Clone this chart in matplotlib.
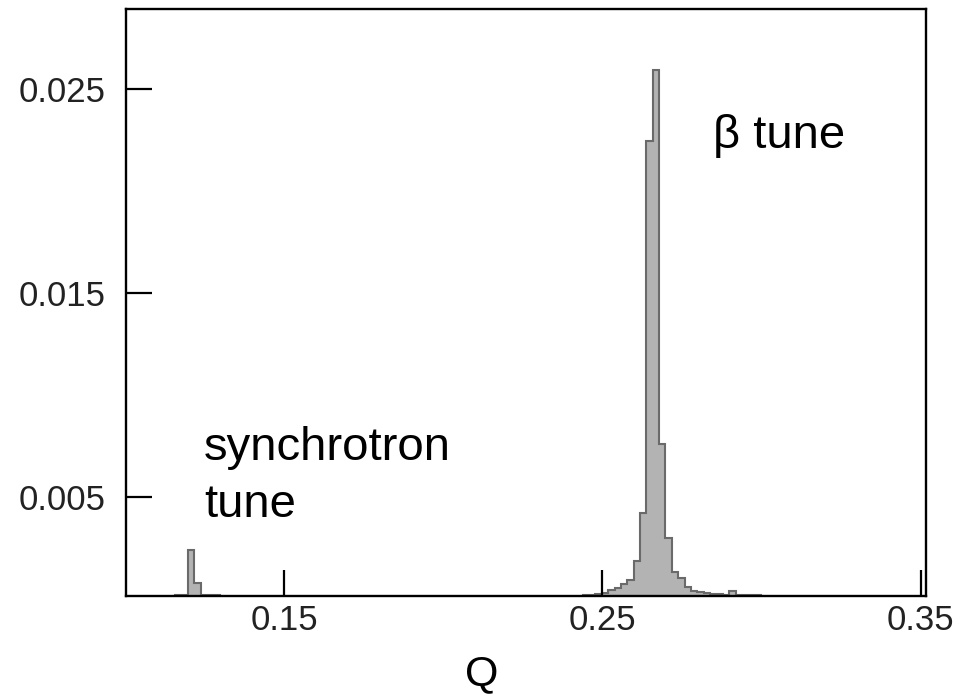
import numpy as np
import matplotlib
matplotlib.use('Agg')
import matplotlib.pyplot as plt

plt.rcParams['font.family'] = ['Liberation Sans', 'DejaVu Sans']

# bin centres (Q) and normalised counts, synchrotron line
q_sync = [0.1168, 0.1188, 0.1208, 0.1228, 0.1248, 0.1268, 0.1288]
h_sync = [0.0002, 0.0002, 0.00239, 0.00077, 0.0002, 0.0002, 0.0002]

# bin centres (Q) and normalised counts, betatron line
q_beta = [0.2448, 0.2468, 0.2488, 0.2508, 0.2528, 0.2548, 0.2568, 0.2588,
          0.2608, 0.2628, 0.2648, 0.2668, 0.2688, 0.2708, 0.2728, 0.2748,
          0.2768, 0.2788, 0.2808, 0.2828, 0.2848, 0.2868, 0.2888, 0.2908,
          0.2928, 0.2948, 0.2968, 0.2988]
h_beta = [0.0002, 0.0002, 0.00022, 0.0003, 0.0004, 0.00052, 0.0007, 0.00092,
          0.00186, 0.00419, 0.02244, 0.02597, 0.00758, 0.00298, 0.00132, 0.00101,
          0.00057, 0.00038, 0.00033, 0.00028, 0.00024, 0.00022, 0.0002, 0.00038,
          0.0002, 0.0002, 0.0002, 0.0002]

xticks = [0.15, 0.25, 0.35]
yticks = [0.005, 0.015, 0.025]

dq = 0.002
edges = np.arange(0.1158, 0.3009, dq)

q_all = np.concatenate([q_sync, q_beta])
h_all = np.concatenate([h_sync, h_beta])

W, H = 961, 696
fig = plt.figure(figsize=(W/100, H/100), dpi=100)
ax = fig.add_axes([126/W, 1-596/H, 800/W, 587/H])

ax.hist(q_all, bins=edges, weights=h_all, histtype='stepfilled',
        facecolor='#b3b3b3', edgecolor='#6a6a6a', linewidth=1.5)

ax.set_xlim(0.1004, 0.3516)
ax.set_ylim(0.00013, 0.02894)
ax.set_xticks(xticks)
ax.set_xticklabels(['0.15', '0.25', '0.35'])
ax.set_yticks(yticks)
ax.set_yticklabels(['0.005', '0.015', '0.025'])
ax.tick_params(direction='in', length=19, width=1.6, labelsize=25,
               colors='black', labelcolor='#222222')
ax.tick_params(axis='y', pad=15)
ax.tick_params(axis='x', pad=6)
for s in ax.spines.values():
    s.set_linewidth(1.7)
    s.set_color('black')

fig.text(713/W, 1-148/H, 'β tune', fontsize=34, va='baseline', ha='left')
fig.text(204/W, 1-460/H, 'synchrotron', fontsize=34, va='baseline', ha='left')
fig.text(204/W, 1-517/H, 'tune', fontsize=34, va='baseline', ha='left')
fig.text(482/W, 1-685/H, 'Q', fontsize=31, va='baseline', ha='center')

fig.savefig('out.png', dpi=100)
